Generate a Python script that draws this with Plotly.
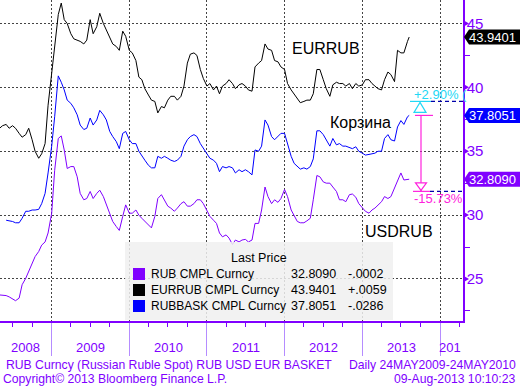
import plotly.graph_objects as go

# ---------------- data (semi-monthly readings) ----------------
dates = []
for yr in range(2008, 2014):
    for m in range(1, 13):
        if (yr == 2008 and m < 5) or (yr == 2013 and m > 7):
            continue
        dates.append(f"{yr}-{m:02d}-01")
        dates.append(f"{yr}-{m:02d}-15")
dates += ["2013-08-01", "2013-08-09"]

eurrub = [
    36.8, 37.0, 37.1, 36.8, 37.0, 36.8, 36.4, 36.1, 36.3, 36.8, 35.9, 35.0, 34.45, 34.8, 35.6, 38.6,
    41.1, 43.4, 45.7, 46.6, 45.3, 45.0, 44.2, 43.8, 43.7, 43.6, 43.4, 43.7, 45.3, 44.2, 44.75, 45.8,
    45.0, 44.5, 43.8, 43.4, 43.2, 42.9, 44.4, 44.0,
    42.9, 42.7, 42.1, 40.8, 40.6, 39.9, 39.4, 39.0, 38.9, 38.0, 38.5, 38.4, 39.0, 39.3, 39.3, 39.0,
    39.3, 40.1, 41.9, 42.6, 42.7, 42.5, 41.4, 40.7,
    40.1, 40.3, 39.8, 40.1, 39.5, 40.1, 40.3, 40.6, 40.3, 39.9, 40.2, 40.3, 40.1, 39.8, 39.7, 41.6,
    41.9, 42.1, 43.4, 43.0, 42.9, 42.1, 42.0, 41.6,
    41.4, 40.3, 39.8, 39.5, 39.1, 38.8, 38.9, 39.0, 39.0, 39.5, 41.4, 41.4, 40.6, 39.9, 39.3, 40.2,
    40.4, 40.3, 40.3, 40.1, 40.3, 39.9, 40.3, 40.1,
    40.2, 40.6, 40.6, 40.3, 40.1, 39.9, 39.8, 40.6, 41.2, 41.0, 40.45, 42.9, 42.7, 42.7, 43.6, 43.9401,
]
basket = [
    29.6, 29.57, 29.5, 29.4, 29.4, 29.75, 30.3, 30.3, 30.4, 30.4, 30.45, 30.9, 31.7, 33.3,
    35.4, 37.7, 40.9, 40.4, 39.8, 39.0, 38.75, 38.4, 37.85, 37.05, 36.7, 36.8, 37.6, 37.05, 37.45, 38.2,
    37.85, 37.45, 36.55, 36.15, 35.75, 35.2, 36.4, 36.55,
    35.9, 35.6, 35.6, 35.0, 34.6, 34.3, 33.9, 33.7, 33.7, 34.6, 34.45, 34.6, 34.45, 34.3, 34.2, 34.3,
    34.6, 35.4, 35.9, 36.15, 36.3, 36.15, 35.6, 35.2,
    34.8, 34.45, 34.3, 34.05, 33.4, 33.8, 33.7, 33.8, 33.7, 33.3, 33.55, 33.4, 33.55, 33.4, 33.15, 35.1,
    35.0, 35.4, 37.45, 37.05, 36.15, 35.9, 36.15, 36.4,
    36.4, 35.6, 34.6, 34.05, 33.8, 33.6, 33.7, 33.6, 33.8, 34.4, 36.6, 36.6, 36.3, 35.9, 35.4, 36.0,
    35.5, 35.6, 35.4, 35.4, 35.3, 35.2, 35.35, 35.0,
    34.85, 34.7, 34.75, 34.8, 34.85, 35.0, 35.0, 36.0, 36.3, 35.9, 35.8, 36.9, 37.4, 37.1, 37.7, 37.8051,
]
usdrub = [
    23.75, 23.75, 23.7, 23.6, 23.45, 23.3, 23.5, 24.55, 25.05, 25.6, 26.2, 26.75, 27.15, 27.65, 27.9, 28.6,
    30.15, 33.5, 36.0, 36.2, 35.1, 33.65, 33.8, 33.8, 33.0, 31.7, 31.2, 31.3, 31.85, 31.3, 31.7, 31.95,
    31.45, 30.8, 30.0, 29.5, 29.1, 28.8, 29.9, 30.8,
    30.15, 30.15, 30.4, 30.0, 29.75, 29.5, 29.25, 29.0, 29.9, 31.3, 31.6, 31.2, 30.7, 30.55, 30.3, 30.55,
    30.9, 31.05, 30.7, 30.7, 30.9, 31.2, 31.2, 30.9,
    30.4, 29.9, 29.6, 29.35, 28.6, 28.3, 28.45, 28.2, 27.7, 28.05, 27.9, 28.05, 28.1, 27.9, 28.05, 29.35,
    29.35, 30.4, 32.2, 31.45, 30.9, 31.2, 31.0, 31.3,
    32.0, 31.45, 30.4, 29.9, 29.5, 29.4, 29.4, 29.55, 29.75, 31.2, 33.1, 33.0, 32.6, 32.5, 32.5, 32.2,
    31.85, 31.2, 31.2, 31.05, 31.6, 31.65, 31.4, 30.9,
    30.55, 30.3, 30.15, 30.4, 30.55, 30.8, 31.05, 31.45, 31.3, 31.45, 32.1, 32.6, 33.3, 32.75, 32.75, 32.809,
]
basket_dates = dates[2:]

legend_names = ["RUB CMPL Curncy", "EURRUB CMPL Curncy", "RUBBASK CMPL Curncy"]
legend_last = ["32.8090", "43.9401", "37.8051"]
legend_chg = ["-.0002", "+.0059", "-.0286"]
year_labels = ["2008", "2009", "2010", "2011", "2012", "2013"]
year_pos = ["2008-09-01", "2009-07-02", "2010-07-02", "2011-07-02", "2012-07-02", "2013-07-02"]
up_pct = 2.90
down_pct = 15.73

PURPLE = "#8000ff"
BLUE = "#0000ff"
FONT = "Liberation Sans"
PW, PH = 463.0, 321.0


def px(x):
    return x / PW


def py(y):
    return 1 - y / PH


def note(x, y, text, size, color, xanchor="center", xref="paper", yref="paper", xshift=0):
    return dict(xref=xref, yref=yref, x=x, y=y, text=text, showarrow=False, xanchor=xanchor,
                yanchor="middle", xshift=xshift, font=dict(family=FONT, size=size, color=color))


fig = go.Figure()
fig.add_trace(go.Scatter(x=dates, y=eurrub, mode="lines", line=dict(color="black", width=1), showlegend=False))
fig.add_trace(go.Scatter(x=basket_dates, y=basket, mode="lines", line=dict(color=BLUE, width=1), showlegend=False))
fig.add_trace(go.Scatter(x=dates, y=usdrub, mode="lines", line=dict(color=PURPLE, width=1), showlegend=False))

shapes = []
annotations = []

# legend box
shapes.append(dict(type="rect", xref="paper", yref="paper", x0=px(125), x1=px(393), y0=py(320), y1=py(242),
                   fillcolor="rgba(240,240,240,0.85)", line=dict(width=0), layer="above"))
annotations.append(note(px(259), py(258), "Last Price", 12.5, "black"))
sq_colors = [PURPLE, "black", BLUE]
rows_y = [274, 290, 306]
for i in range(3):
    ry = rows_y[i]
    shapes.append(dict(type="rect", xref="paper", yref="paper", x0=px(133), x1=px(145), y0=py(ry + 6), y1=py(ry - 6),
                       fillcolor=sq_colors[i], line=dict(width=0), layer="above"))
    annotations.append(note(px(149), py(ry), legend_names[i], 12, "black", xanchor="left"))
    annotations.append(note(px(338), py(ry), legend_last[i], 12.5, "black", xanchor="right"))
    annotations.append(note(px(346), py(ry), legend_chg[i], 12.5, "black", xanchor="left"))

# series names in plot
annotations.append(note(px(326), py(48), "EURRUB", 16, "black"))
annotations.append(note(px(360), py(122), "Корзина", 16, "black"))
annotations.append(note(px(399), py(231), "USDRUB", 16, "black"))

# right axis triangles at major ticks
for v in [25, 30, 35, 40, 45]:
    shapes.append(dict(type="path", xref="paper", yref="y", xsizemode="pixel", ysizemode="pixel",
                       xanchor=1, yanchor=v, path="M 0,-3.5 L 6,0 L 0,3.5 Z",
                       fillcolor=PURPLE, line=dict(width=0), layer="above"))

# last value tags
tags = [(eurrub[-1], "black"), (basket[-1], BLUE), (usdrub[-1], PURPLE)]
for val, col in tags:
    shapes.append(dict(type="path", xref="paper", yref="y", xsizemode="pixel", ysizemode="pixel",
                       xanchor=1, yanchor=val, path="M 1,0 L 6,7.5 L 57,7.5 L 57,-7.5 L 6,-7.5 Z",
                       fillcolor=col, line=dict(width=0), layer="above"))
    annotations.append(note(1, val, f"{val:.4f}", 13, "white", xanchor="left", yref="y", xshift=4))

# measurement tool
last = basket[-1]
hi = last * (1 + up_pct / 100)
lo = last * (1 - down_pct / 100)
CYAN = "#22d8f5"
MAG = "#ff22dd"
NAVY = "#0000aa"
shapes.append(dict(type="line", xref="paper", yref="y", x0=px(410), x1=px(431), y0=hi, y1=hi,
                   line=dict(color=CYAN, width=1.2), layer="above"))
shapes.append(dict(type="line", xref="paper", yref="y", x0=px(431), x1=1, y0=hi, y1=hi,
                   line=dict(color=NAVY, width=1.2, dash="4px,3px"), layer="above"))
shapes.append(dict(type="path", xref="paper", yref="y", xsizemode="pixel", ysizemode="pixel",
                   xanchor=px(420), yanchor=hi, path="M 0,-1 L 6,-11 L -6,-11 Z",
                   fillcolor="rgba(0,0,0,0)", line=dict(color=CYAN, width=1.2), layer="above"))
shapes.append(dict(type="line", xref="paper", yref="y", x0=px(415), x1=px(433), y0=last, y1=last,
                   line=dict(color=MAG, width=1.2), layer="above"))
shapes.append(dict(type="line", xref="paper", yref="y", xsizemode="pixel", ysizemode="scaled",
                   xanchor=px(421), x0=0, x1=0, y0=last, y1=lo, line=dict(color=MAG, width=1.2), layer="above"))
shapes.append(dict(type="path", xref="paper", yref="y", xsizemode="pixel", ysizemode="pixel",
                   xanchor=px(421), yanchor=lo, path="M 0,1 L 5.5,8.5 L -5.5,8.5 Z",
                   fillcolor="white", line=dict(color=MAG, width=1.2), layer="above"))
shapes.append(dict(type="line", xref="paper", yref="y", x0=px(413), x1=px(430), y0=lo, y1=lo,
                   line=dict(color=MAG, width=1.2), layer="above"))
shapes.append(dict(type="line", xref="paper", yref="y", x0=px(430), x1=1, y0=lo, y1=lo,
                   line=dict(color=NAVY, width=1.2, dash="4px,3px"), layer="above"))
annotations.append(note(px(412), py(94), f"+{up_pct:.2f}% (", 13, CYAN, xanchor="left"))
annotations.append(note(px(412), py(198), f"-{down_pct:.2f}%", 13, MAG, xanchor="left"))

# year labels
for lab, pos in zip(year_labels, year_pos):
    annotations.append(note(pos, py(347), lab, 13, PURPLE, xref="x"))
annotations.append(note(1, py(347), "201", 13, PURPLE, xanchor="right"))

# footer
annotations.append(note(px(4), py(365), "RUB Curncy (Russian Ruble Spot) RUB USD EUR BASKET", 12.2, PURPLE,
                        xanchor="left"))
annotations.append(note(px(518), py(365), "Daily 24MAY2009-24MAY2010", 12.2, PURPLE, xanchor="right"))
annotations.append(note(px(1), py(379), "Copyright© 2013 Bloomberg Finance L.P.", 12.2, PURPLE, xanchor="left"))
annotations.append(note(px(518), py(379), "09-Aug-2013 10:10:23", 12.2, PURPLE, xanchor="right"))

fig.update_layout(
    width=520, height=387,
    margin=dict(l=0, r=57, t=0, b=66),
    paper_bgcolor="white", plot_bgcolor="white",
    showlegend=False,
    font=dict(family=FONT, size=13, color=PURPLE),
    shapes=shapes, annotations=annotations,
    xaxis=dict(type="date", range=["2008-05-03", "2014-04-19"], showgrid=True, gridcolor="#444444",
               griddash="2px,2px", gridwidth=1, dtick="M12", tick0="2009-01-01", ticks="outside", ticklen=33,
               tickcolor="#b58cff", tickwidth=1, showticklabels=False, showline=True, linecolor=PURPLE,
               linewidth=1.5, zeroline=False,
               minor=dict(dtick="M3", tick0="2009-01-01", ticks="outside", ticklen=4, tickcolor=PURPLE,
                          showgrid=False)),
    yaxis=dict(side="right", range=[21.71, 46.84], dtick=5, tick0=0, showgrid=True, gridcolor="#444444",
               griddash="2px,2px", gridwidth=1, showline=True, linecolor=PURPLE, linewidth=1.5,
               ticks="outside", ticklen=5, tickcolor="rgba(0,0,0,0)", zeroline=False,
               ticklabelstandoff=-6,
               tickfont=dict(family=FONT, size=15, color=PURPLE),
               minor=dict(dtick=2.5, tick0=0, ticks="outside", ticklen=5, tickcolor=PURPLE, showgrid=False)),
)

fig.write_html("out.html", config={"displayModeBar": False},
               post_script="document.body.style.margin='0px';document.body.style.overflow='hidden';")
